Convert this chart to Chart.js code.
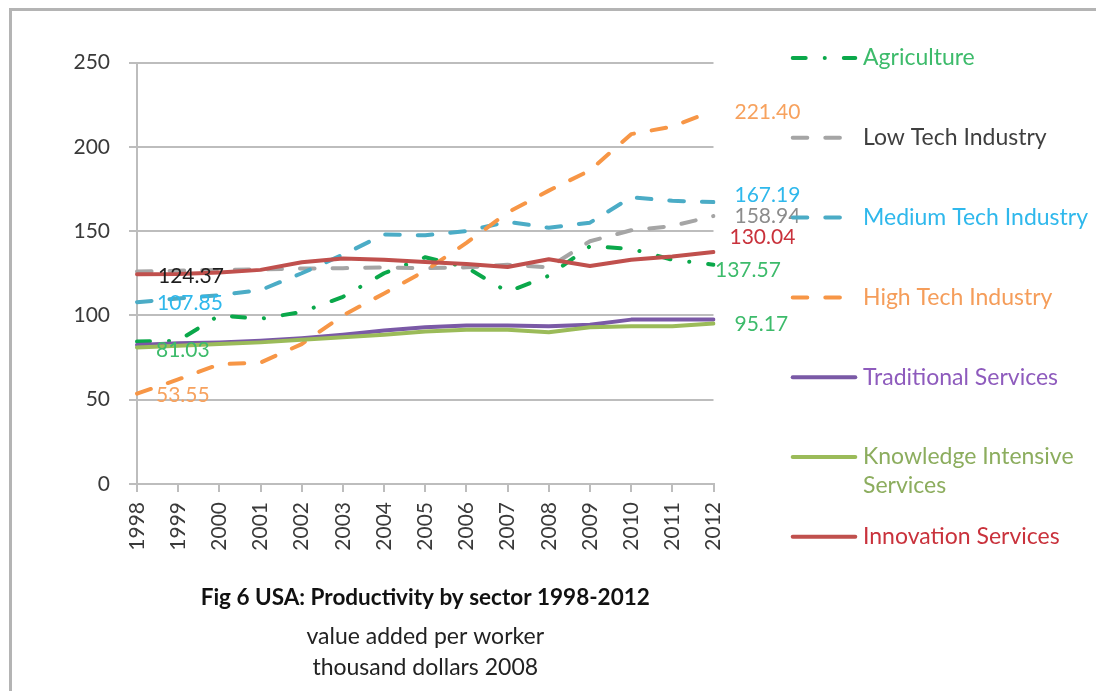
<!DOCTYPE html>
<html>
<head>
<meta charset="utf-8">
<title>Fig 6 USA: Productivity by sector 1998-2012</title>
<script src="https://cdn.jsdelivr.net/npm/chart.js@4.4.1/dist/chart.umd.min.js"></script>
<style>
  html, body { margin: 0; padding: 0; background: #fff; overflow: hidden; }
  #chart { display: block; }
</style>
</head>
<body>
<canvas id="chart" width="1096" height="691"></canvas>
<script>
// data (thousand dollars 2008)
var years = ['1998', '1999', '2000', '2001', '2002', '2003', '2004', '2005',
             '2006', '2007', '2008', '2009', '2010', '2011', '2012'];
var agriculture = [84.5, 85, 100, 98, 102, 111, 125, 134.5, 128.5, 114, 123.5, 141, 139.5, 133, 130.04];
var lowTech     = [126, 126.5, 127, 127.3, 127.8, 128, 128.5, 128, 128.5, 130, 128.5, 144, 150.5, 153, 158.94];
var mediumTech  = [107.85, 110, 112, 115, 125, 136, 148, 147.5, 150, 155.5, 152, 155, 170, 168, 167.19];
var highTech    = [53.55, 62, 71, 72, 83, 100, 113, 126.5, 143, 161, 174, 186, 207.5, 212, 221.40];
var traditional = [82.5, 83.5, 84, 85, 86.5, 88.5, 91, 93, 94, 94, 93.5, 94.5, 97.5, 97.5, 97.5];
var knowledge   = [81.03, 82, 83, 84, 85.5, 87, 88.5, 90.5, 91.5, 91.5, 90, 93, 93.5, 93.5, 95.17];
var innovation  = [124.37, 124.5, 125.5, 127, 131.5, 133.7, 133, 131.7, 130.5, 128.7, 133.3, 129.3, 133, 135, 137.57];

var seriesNames = ['Agriculture', 'Low Tech Industry', 'Medium Tech Industry', 'High Tech Industry',
                   'Traditional Services', 'Knowledge Intensive Services', 'Innovation Services'];
var legendLines = [['Agriculture'], ['Low Tech Industry'], ['Medium Tech Industry'], ['High Tech Industry'],
                   ['Traditional Services'], ['Knowledge Intensive', 'Services'], ['Innovation Services']];
var yMin = 0, yMax = 250, yStep = 50;

var titleText = 'Fig 6 USA: Productivity by sector 1998-2012';
var subtitleText = ['value added per worker', 'thousand dollars 2008'];

var FONT = 'Lato';
var dashed = [14.6, 18];
var dashDot = [13, 19, 0.1, 19];

function series(i, values, color, textColor, dash, width) {
    return {
        label: seriesNames[i],
        data: values,
        borderColor: color,
        backgroundColor: color,
        textColor: textColor,
        borderWidth: width,
        borderDash: dash,
        borderCapStyle: 'round',
        borderJoinStyle: 'round',
        pointRadius: 0,
        tension: 0,
        fill: false,
        order: -i
    };
}

// value labels at the start / end of some lines (text comes from the data)
var valueLabels = [
    { ds: 6, idx: 0,  color: '#1e1e1e', dx: 21, dy: 2 },
    { ds: 2, idx: 0,  color: '#2fb8ec', dx: 20, dy: 1 },
    { ds: 5, idx: 0,  color: '#3dbb6b', dx: 19, dy: 3 },
    { ds: 3, idx: 0,  color: '#f7a25e', dx: 19, dy: 2 },
    { ds: 3, idx: 14, color: '#f7a25e', dx: 21, dy: 2 },
    { ds: 2, idx: 14, color: '#2fb8ec', dx: 21, dy: -7 },
    { ds: 1, idx: 14, color: '#8c8c8c', dx: 21, dy: 0 },
    { ds: 0, idx: 14, color: '#c9323c', dx: 16, dy: -27.5 },
    { ds: 6, idx: 14, color: '#3dbb6b', dx: 1.5, dy: 18 },
    { ds: 5, idx: 14, color: '#3dbb6b', dx: 21, dy: 1 }
];

// outer frame of the figure (left and top edges only are inside the picture)
var frame = {
    id: 'frame',
    beforeDraw: function (chart) {
        var ctx = chart.ctx;
        ctx.save();
        ctx.strokeStyle = '#b4b4b4';
        ctx.lineWidth = 3;
        ctx.beginPath();
        ctx.moveTo(10.5, chart.height);
        ctx.lineTo(10.5, 9.5);
        ctx.lineTo(chart.width, 9.5);
        ctx.stroke();
        ctx.restore();
    }
};

var endLabels = {
    id: 'endLabels',
    afterDatasetsDraw: function (chart) {
        var ctx = chart.ctx;
        ctx.save();
        ctx.font = '21px ' + FONT;
        ctx.textBaseline = 'middle';
        ctx.textAlign = 'left';
        valueLabels.forEach(function (l) {
            var pt = chart.getDatasetMeta(l.ds).data[l.idx];
            var v = chart.data.datasets[l.ds].data[l.idx];
            ctx.fillStyle = l.color;
            ctx.fillText(v.toFixed(2), pt.x + l.dx, pt.y + l.dy);
        });
        ctx.restore();
    }
};

var sideLegend = {
    id: 'sideLegend',
    afterDraw: function (chart) {
        var ctx = chart.ctx;
        ctx.save();
        ctx.font = '23px ' + FONT;
        ctx.textBaseline = 'middle';
        chart.data.datasets.forEach(function (ds, i) {
            var y = 58 + i * 79.8;
            ctx.beginPath();
            ctx.setLineDash(ds.borderDash || []);
            ctx.lineWidth = ds.borderWidth;
            ctx.lineCap = 'round';
            ctx.strokeStyle = ds.borderColor;
            ctx.moveTo(792.7, y);
            ctx.lineTo(855.3, y);
            ctx.stroke();
            ctx.setLineDash([]);
            ctx.fillStyle = ds.textColor;
            legendLines[i].forEach(function (t, k) {
                ctx.fillText(t, 863, y + k * 29);
            });
        });
        ctx.restore();
    }
};

var ctx = document.getElementById('chart').getContext('2d');
var chart = new Chart(ctx, {
    type: 'line',
    data: {
        labels: years,
        datasets: [
            series(0, agriculture, '#0aa84a', '#3dbb6b', dashDot, 4),
            series(1, lowTech, '#a5a5a5', '#3f3f3f', dashed, 4),
            series(2, mediumTech, '#4bacc6', '#2fb8ec', dashed, 4),
            series(3, highTech, '#f79646', '#f59d5a', dashed, 4),
            series(4, traditional, '#7a59a6', '#8e5bbd', [], 4),
            series(5, knowledge, '#9bbb59', '#8cad5e', [], 4),
            series(6, innovation, '#c0504d', '#c9323c', [], 4)
        ]
    },
    options: {
        responsive: false,
        animation: false,
        events: [],
        layout: { padding: { top: 62.5, right: 382.5, left: 0, bottom: 0 } },
        plugins: {
            legend: { display: false },
            tooltip: { enabled: false },
            title: {
                display: true,
                position: 'bottom',
                fullSize: false,
                weight: 1000,
                text: titleText,
                color: '#111',
                font: { family: FONT, size: 22.5, weight: 'bold', lineHeight: '28px' },
                padding: { top: 0, bottom: 9.5 }
            },
            subtitle: {
                display: true,
                position: 'bottom',
                fullSize: false,
                weight: 1500,
                text: subtitleText,
                color: '#222',
                font: { family: FONT, size: 23, lineHeight: '31px' },
                padding: { top: 0, bottom: 7.5 }
            }
        },
        scales: {
            x: {
                grid: { display: true, drawOnChartArea: false, drawTicks: true, tickLength: 8,
                        color: '#bdbdbd', lineWidth: 2 },
                border: { display: true, color: '#bdbdbd', width: 2 },
                ticks: { autoSkip: false, minRotation: 90, maxRotation: 90, padding: 10,
                         color: '#3a3a3a', font: { family: FONT, size: 21 } },
                afterFit: function (s) { s.height = 100; }
            },
            y: {
                min: yMin,
                max: yMax,
                grid: { color: '#bdbdbd', lineWidth: 2, tickLength: 8 },
                border: { display: true, color: '#bdbdbd', width: 2 },
                ticks: { stepSize: yStep, padding: 19, color: '#3a3a3a',
                         font: { family: FONT, size: 21 } },
                afterFit: function (s) { s.width = 137; }
            }
        }
    },
    plugins: [frame, sideLegend, endLabels]
});
</script>
</body>
</html>
